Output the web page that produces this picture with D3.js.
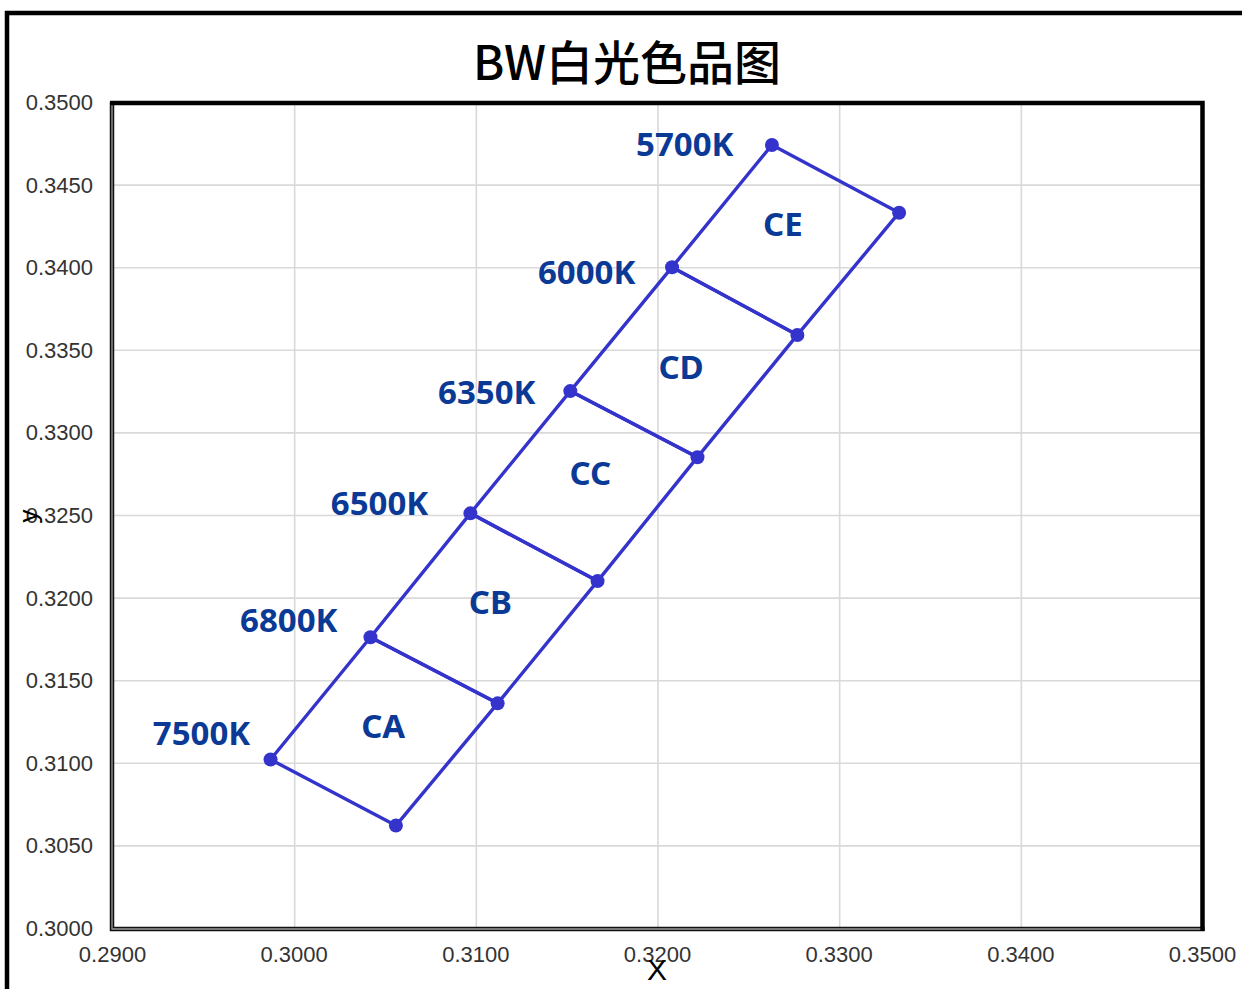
<!DOCTYPE html>
<html><head><meta charset="utf-8">
<script src="https://cdn.jsdelivr.net/npm/d3@7/dist/d3.min.js"></script>
<style>body{margin:0;background:#fff}svg{display:block}</style>
</head><body>
<svg id="c" width="1242" height="989"></svg>
<script>
// ---- data ----
const title = "BW白光色品图";
const cctNames = ["7500K","6800K","6500K","6350K","6000K","5700K"];
// left (upper) edge points along isotherm tops
const leftX  = [0.2987,0.3042,0.3097,0.3152,0.3208,0.3263];
const leftY  = [0.3102,0.3176,0.3251,0.3325,0.3400,0.3474];
// right (lower) edge points
const rightX = [0.3056,0.3112,0.3167,0.3222,0.3277,0.3333];
const rightY = [0.3062,0.3136,0.3210,0.3285,0.3359,0.3433];
// label anchors (data coordinates)
const cctLabelX = [0.2949,0.2997,0.3047,0.3106,0.3161,0.3215];
const cctLabelY = [0.3118,0.3186,0.3257,0.3324,0.3397,0.3474];
const binNames = ["CA","CB","CC","CD","CE"];
const binLabelX = [0.3049,0.3108,0.3163,0.3213,0.3269];
const binLabelY = [0.3122,0.3197,0.3275,0.3339,0.3426];
const xTicks = [0.29,0.30,0.31,0.32,0.33,0.34,0.35];
const yTicks = [0.300,0.305,0.310,0.315,0.320,0.325,0.330,0.335,0.340,0.345,0.350];

// ---- layout ----
const svg = d3.select("#c");
const L=112.5, R=1202.5, T=102, B=928;
const x = d3.scaleLinear().domain([0.29,0.35]).range([L,R]);
const y = d3.scaleLinear().domain([0.30,0.35]).range([B,T]);
const lineCol = "#3434CC", labCol = "#0B3A96";

// outer frame
svg.append("path").attr("d","M7,995 L7,13 L1250,13").attr("fill","none")
  .attr("stroke","#000").attr("stroke-width",4.5);

// title
svg.append("text").attr("x",627).attr("y",80).attr("text-anchor","middle")
  .attr("font-family","'Noto Sans CJK SC','Noto Sans',sans-serif").attr("font-weight",500)
  .attr("font-size",47).attr("fill","#000").text(title);

// gridlines
const g = svg.append("g");
g.append("g").attr("transform",`translate(0,${B})`)
  .call(d3.axisBottom(x).tickValues(xTicks).tickSize(-(B-T)).tickFormat(""))
  .call(a=>{a.select(".domain").remove();a.selectAll("line").attr("stroke","#d9d9d9").attr("stroke-width",1.6);});
g.append("g").attr("transform",`translate(${L},0)`)
  .call(d3.axisLeft(y).tickValues(yTicks).tickSize(-(R-L)).tickFormat(""))
  .call(a=>{a.select(".domain").remove();a.selectAll("line").attr("stroke","#d9d9d9").attr("stroke-width",1.6);});

// tick labels
const tf = d3.format(".4f");
svg.append("g").selectAll("text").data(yTicks).join("text")
  .attr("x",93).attr("y",d=>y(d)+8).attr("text-anchor","end")
  .attr("font-family","'Liberation Sans',Arial,sans-serif").attr("font-size",22).attr("fill","#333")
  .text(tf);
svg.append("g").selectAll("text").data(xTicks).join("text")
  .attr("x",d=>x(d)).attr("y",962).attr("text-anchor","middle")
  .attr("font-family","'Liberation Sans',Arial,sans-serif").attr("font-size",22).attr("fill","#333")
  .text(tf);

// frame: left & bottom double lines, top & right thick
svg.append("path").attr("d",`M${L-0.5},${T} L${L-0.5},${B+1} L${R+2},${B+1}`).attr("fill","none")
  .attr("stroke","#111").attr("stroke-width",4.5);
svg.append("path").attr("d",`M${L-0.5},${T} L${L-0.5},${B+1} L${R+2},${B+1}`).attr("fill","none")
  .attr("stroke","#9a9a9a").attr("stroke-width",1.3);
svg.append("path").attr("d",`M${L-2.5},${T+1} L${R},${T+1} L${R},${B+3}`).attr("fill","none")
  .attr("stroke","#000").attr("stroke-width",4.5);

// axis titles
svg.append("text").attr("transform","translate(37,516) rotate(-90)").attr("text-anchor","middle")
  .attr("font-family","'Liberation Sans',Arial,sans-serif").attr("font-size",26).attr("fill","#000").text("y");
svg.append("text").attr("x",657).attr("y",980).attr("text-anchor","middle")
  .attr("font-family","'Liberation Sans',Arial,sans-serif").attr("font-size",30).attr("fill","#000").text("X");

// bin quadrilaterals
const quads = binNames.map((n,i)=>[
  [leftX[i],leftY[i]],[leftX[i+1],leftY[i+1]],[rightX[i+1],rightY[i+1]],[rightX[i],rightY[i]],[leftX[i],leftY[i]]
]);
const ln = d3.line().x(d=>x(d[0])).y(d=>y(d[1]));
svg.append("g").selectAll("path").data(quads).join("path")
  .attr("d",ln).attr("fill","none").attr("stroke",lineCol).attr("stroke-width",3.4).attr("stroke-linejoin","round");

// markers
const pts = leftX.map((v,i)=>[v,leftY[i]]).concat(rightX.map((v,i)=>[v,rightY[i]]));
svg.append("g").selectAll("circle").data(pts).join("circle")
  .attr("cx",d=>x(d[0])).attr("cy",d=>y(d[1])).attr("r",7).attr("fill",lineCol);

// labels
svg.append("g").selectAll("text").data(cctNames).join("text")
  .attr("x",(d,i)=>x(cctLabelX[i])).attr("y",(d,i)=>y(cctLabelY[i])+11.5).attr("text-anchor","middle")
  .attr("font-family","'Noto Sans',sans-serif").attr("font-weight","bold").attr("font-size",33)
  .attr("fill",labCol).text(d=>d);
svg.append("g").selectAll("text").data(binNames).join("text")
  .attr("x",(d,i)=>x(binLabelX[i])).attr("y",(d,i)=>y(binLabelY[i])+11.5).attr("text-anchor","middle")
  .attr("font-family","'Noto Sans',sans-serif").attr("font-weight","bold").attr("font-size",33)
  .attr("fill",labCol).text(d=>d);
</script>
</body></html>
